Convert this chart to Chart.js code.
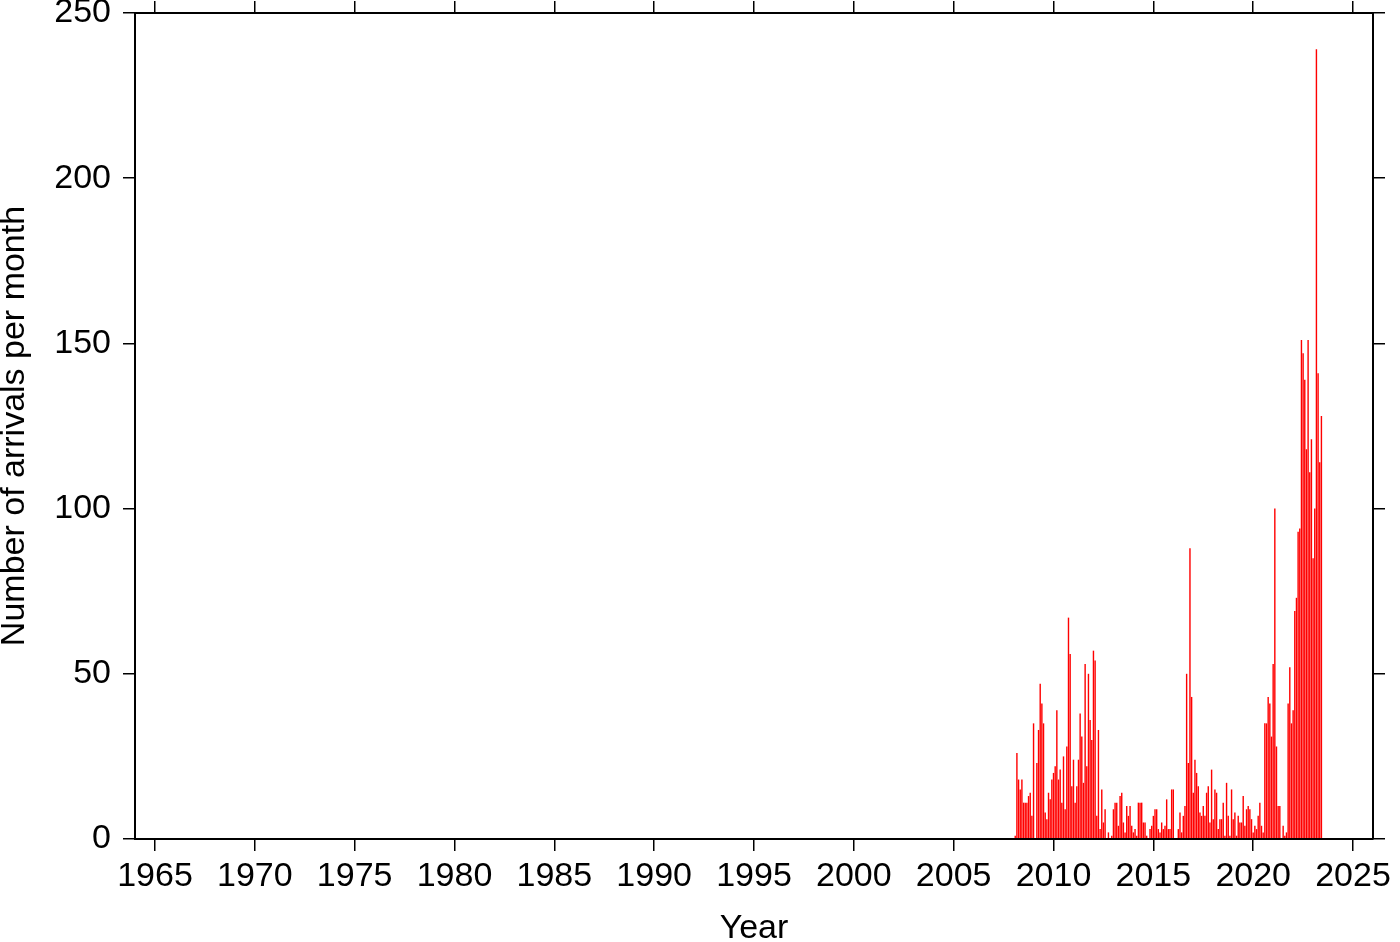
<!DOCTYPE html>
<html>
<head>
<meta charset="utf-8">
<title>Arrivals per month</title>
<script src="https://cdn.jsdelivr.net/npm/chart.js@4.4.1/dist/chart.umd.min.js"></script>
<style>
  body { margin: 0; background: #fff; }
  #wrap { width: 1400px; height: 942px; }
</style>
</head>
<body>
<div id="wrap"><canvas id="myChart" width="1400" height="942"></canvas></div>
<script>
// monthly counts, first bar is Jan 2008, last is May 2023
const startYear = 2008;
const arrivals = [
  1, 26, 18, 15, 18, 11, 11, 11, 13, 14, 7, 35,
  0, 23, 33, 47, 41, 35, 8, 6, 14, 12, 18, 20,
  22, 39, 18, 21, 11, 25, 9, 28, 67, 56, 16, 24,
  11, 16, 24, 38, 31, 17, 53, 22, 50, 36, 30, 57,
  54, 7, 33, 3, 15, 5, 9, 0, 2, 0, 1, 9,
  11, 11, 4, 13, 14, 5, 2, 10, 7, 10, 4, 2,
  3, 1, 11, 11, 11, 5, 5, 1, 0, 3, 4, 7,
  9, 9, 3, 2, 5, 3, 4, 12, 3, 3, 15, 15,
  0, 0, 3, 8, 2, 7, 10, 50, 23, 88, 43, 14,
  24, 20, 16, 8, 7, 10, 7, 14, 16, 5, 21, 6,
  15, 14, 3, 6, 6, 11, 1, 17, 7, 1, 15, 6,
  8, 1, 7, 5, 5, 13, 4, 9, 10, 9, 6, 2,
  4, 3, 7, 11, 4, 2, 35, 35, 43, 41, 31, 53,
  100, 28, 10, 10, 0, 4, 1, 2, 41, 52, 35, 39,
  69, 73, 93, 94, 151, 147, 139, 118, 151, 111, 121, 85,
  100, 239, 141, 114, 128
];
const xTicks = [1965, 1970, 1975, 1980, 1985, 1990, 1995, 2000, 2005, 2010, 2015, 2020, 2025];
const yTicks = [0, 50, 100, 150, 200, 250];
const xMin = 1964;
const xMax = 2026;

const font = { family: "'Liberation Sans', Arial, Helvetica, sans-serif", size: 34, lineHeight: 1 };

// the reference plots each month at its end date
const points = arrivals.map((v, i) => ({ x: startYear + (i + 1) / 12, y: v }));

const setXTicks = (axis) => {
  axis.ticks = xTicks.map((v) => ({ value: v }));
};
const setYTicks = (axis) => {
  axis.ticks = yTicks.map((v) => ({ value: v }));
};

// fixed box sizes so the frame lands where the reference has it
const fitX = (h) => (s) => {
  s.height = h;
  s.paddingLeft = 0;
  s.paddingRight = 0;
};
const fitY = (w) => (s) => {
  s.width = w;
  s.paddingTop = 0;
  s.paddingBottom = 0;
};

const frame = { display: true, color: "#000", width: 2, z: 1 };
const tickGrid = { drawOnChartArea: false, drawTicks: true, tickLength: 12, color: "#000", lineWidth: 1.5 };
const plain = (v) => String(v);

new Chart(document.getElementById("myChart").getContext("2d"), {
  type: "bar",
  data: {
    datasets: [
      {
        label: "arrivals",
        data: points,
        backgroundColor: "rgb(255,0,0)",
        borderWidth: 0,
        categoryPercentage: 1,
        barPercentage: 0.85,
      },
    ],
  },
  options: {
    responsive: false,
    animation: false,
    layout: { padding: 0 },
    plugins: { legend: { display: false }, tooltip: { enabled: false } },
    scales: {
      x: {
        type: "linear",
        position: "bottom",
        min: xMin,
        max: xMax,
        offset: false,
        afterBuildTicks: setXTicks,
        afterFit: fitX(103),
        grid: { ...tickGrid, offset: false },
        border: frame,
        ticks: { color: "#000", font: font, padding: 9, maxRotation: 0, autoSkip: false, callback: plain },
        title: { display: true, text: "Year", color: "#000", font: font, padding: { top: 0, bottom: -4 } },
      },
      xTop: {
        type: "linear",
        position: "top",
        min: xMin,
        max: xMax,
        offset: false,
        afterBuildTicks: setXTicks,
        afterFit: fitX(13),
        grid: { ...tickGrid, offset: false },
        border: frame,
        ticks: { display: false },
      },
      y: {
        position: "left",
        min: 0,
        max: 250,
        afterBuildTicks: setYTicks,
        afterFit: fitY(135),
        grid: tickGrid,
        border: frame,
        ticks: { color: "#000", font: font, padding: 12, callback: plain },
        title: { display: true, text: "Number of arrivals per month", color: "#000", font: font, padding: { top: -2, bottom: 0 } },
      },
      yRight: {
        position: "right",
        min: 0,
        max: 250,
        afterBuildTicks: setYTicks,
        afterFit: fitY(27),
        grid: tickGrid,
        border: frame,
        ticks: { display: false },
      },
    },
  },
});
</script>
</body>
</html>
